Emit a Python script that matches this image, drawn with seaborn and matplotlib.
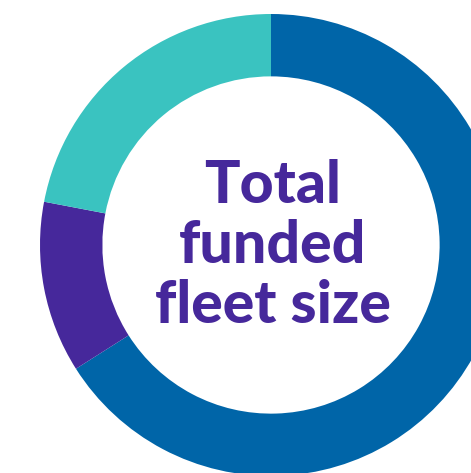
import matplotlib
matplotlib.use("Agg")
import matplotlib.pyplot as plt
import seaborn as sns

sns.set_theme(style="white")
plt.rcParams['font.family'] = ['Lato', 'DejaVu Sans']

categories = ["Segment A", "Segment B", "Segment C"]
values = [66, 12, 22]
colors = ["#0065A8", "#46289B", "#3AC3C0"]
center_lines = ["Total", "funded", "fleet size"]

fig = plt.figure(figsize=(4.71, 4.73), dpi=100)
ax = fig.add_axes([0, 0, 1, 1])
ax.pie(values, colors=colors, startangle=90, counterclock=False,
       radius=1.0, wedgeprops=dict(width=0.27, edgecolor="none", linewidth=0))
s = 231.0
ax.set_xlim(-271 / s, (471 - 271) / s)
ax.set_ylim(-(473 - 245) / s, 245 / s)
ax.set_aspect("auto")
ax.axis("off")

for line, yb in zip(center_lines, [203, 263, 323]):
    ax.text(1.5 / s, (245 - yb) / s, line, ha="center", va="baseline",
            fontsize=42.5, fontweight="black", color="#46289B")

fig.savefig("out.png", dpi=100)
